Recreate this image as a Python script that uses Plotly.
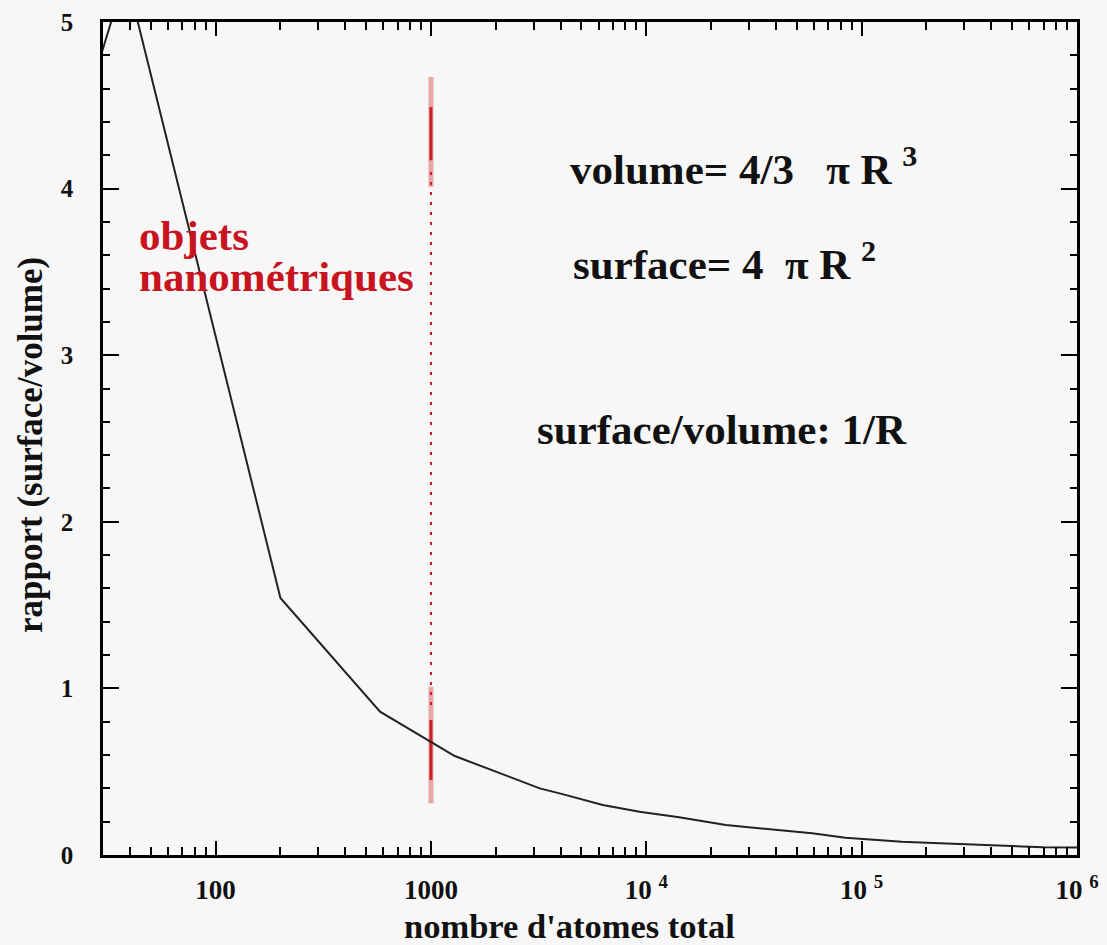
import math
import plotly.graph_objects as go

# ---- data ----
n_atoms = [13, 38.3, 200, 580, 1290, 2090, 3200, 3960, 6280, 9300, 14200,
           23400, 37100, 58900, 84000, 153700, 231300, 400000, 696000, 1000000]
ratio = [3.30, 5.29, 1.543, 0.860, 0.594, 0.490, 0.400, 0.370, 0.300, 0.260,
         0.226, 0.180, 0.154, 0.130, 0.104, 0.080, 0.070, 0.060, 0.046, 0.045]

limit_x = [1000, 1000]
limit_dotted_y = [0.9, 4.1]
limit_upper_outer_y = [4.01, 4.67]
limit_upper_core_y = [4.17, 4.49]
limit_lower_outer_y = [0.31, 1.01]
limit_lower_core_y = [0.45, 0.81]

x_tickvals = [100, 1000, 10000, 100000, 1000000]
x_ticktext = ["100", "1000", "10 <sup>4</sup>", "10 <sup>5</sup>", "10 <sup>6</sup>"]
y_tickvals = [0, 1, 2, 3, 4, 5]
y_ticktext = ["0", "1", "2", "3", "4", "5"]

x_title = "nombre d'atomes total"
y_title = "rapport (surface/volume)"
label_nano_1 = "objets"
label_nano_2 = "nanométriques"
label_volume = "volume= 4/3   π R <sup>3</sup>"
label_surface = "surface= 4  π R <sup>2</sup>"
label_ratio = "surface/volume: 1/R"

RED = "#c8141e"
SERIF = "Liberation Serif"
BG = "#f7f7f7"

fig = go.Figure()

# red marker for the nano limit
fig.add_trace(go.Scatter(x=limit_x, y=limit_dotted_y, mode="lines",
                         line=dict(color=RED, width=2, dash="3px,7px"),
                         hoverinfo="skip", showlegend=False))
for yy, w, op in [(limit_upper_outer_y, 5, 0.35), (limit_upper_core_y, 3, 0.9),
                  (limit_lower_outer_y, 5, 0.35), (limit_lower_core_y, 3, 0.9)]:
    fig.add_trace(go.Scatter(x=limit_x, y=yy, mode="lines", opacity=op,
                             line=dict(color=RED, width=w),
                             hoverinfo="skip", showlegend=False))

# main curve
fig.add_trace(go.Scatter(x=n_atoms, y=ratio, mode="lines",
                         line=dict(color="#222222", width=2),
                         showlegend=False))

tickfont = dict(family=SERIF, size=27, color="#111111", weight="bold")

fig.update_xaxes(type="log", range=[math.log10(30), 6],
                 tickvals=x_tickvals, ticktext=x_ticktext,
                 ticks="inside", ticklen=14, tickwidth=2, tickcolor="black",
                 minor=dict(ticks="inside", ticklen=8, tickwidth=2,
                            tickcolor="black", dtick="D1", showgrid=False),
                 showline=True, linewidth=2.5, linecolor="black",
                 mirror="allticks", showgrid=False, zeroline=False,
                 tickfont=tickfont, ticklabelstandoff=9)
fig.update_yaxes(range=[0, 5], tickvals=y_tickvals, ticktext=y_ticktext,
                 ticks="inside", ticklen=16, tickwidth=2, tickcolor="black",
                 minor=dict(ticks="inside", ticklen=7, tickwidth=2,
                            tickcolor="black", dtick=0.2, showgrid=False),
                 showline=True, linewidth=2.5, linecolor="black",
                 mirror="allticks", showgrid=False, zeroline=False,
                 tickfont=dict(family=SERIF, size=25, color="#111111", weight="bold"),
                 ticklabelstandoff=22)

bold_black = dict(family=SERIF, size=43, color="#111111", weight="bold")
bold_red = dict(family=SERIF, size=43, color=RED, weight="bold")
annotations = [
    dict(text=label_nano_1, x=0.035, y=0.744, xanchor="left", yanchor="middle",
         font=bold_red),
    dict(text=label_nano_2, x=0.035, y=0.694, xanchor="left", yanchor="middle",
         font=bold_red),
    dict(text=label_volume, x=0.477, y=0.827, xanchor="left", yanchor="middle",
         font=bold_black),
    dict(text=label_surface, x=0.481, y=0.713, xanchor="left", yanchor="middle",
         font=bold_black),
    dict(text=label_ratio, x=0.4435, y=0.511, xanchor="left", yanchor="middle",
         font=bold_black),
    dict(text=x_title, x=(569 - 103) / 974, y=-(926 - 855) / 833,
         xanchor="center", yanchor="middle",
         font=dict(family=SERIF, size=34.5, color="#111111", weight="bold")),
    dict(text=y_title, x=-(103 - 30) / 974, y=(855 - 445) / 833, textangle=-90,
         xanchor="center", yanchor="middle",
         font=dict(family=SERIF, size=35, color="#111111", weight="bold")),
]
for a in annotations:
    a.update(xref="paper", yref="paper", showarrow=False)

fig.update_layout(width=1107, height=945,
                  margin=dict(l=103, r=30, t=22, b=90, autoexpand=False),
                  paper_bgcolor=BG, plot_bgcolor=BG,
                  annotations=annotations, showlegend=False)

fig.write_html("out.html")
